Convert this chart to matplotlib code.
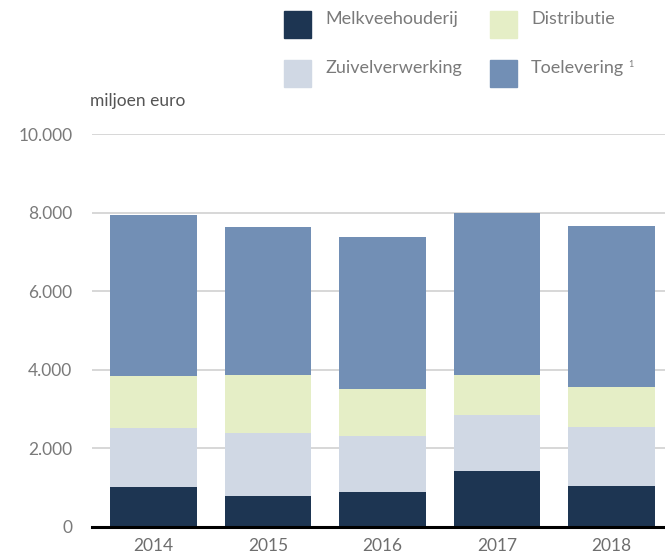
import matplotlib
matplotlib.use('Agg')
import matplotlib.pyplot as plt
from matplotlib.patches import Rectangle

plt.rcParams['font.family'] = ['Lato', 'DejaVu Sans']

years = ['2014', '2015', '2016', '2017', '2018']
melkveehouderij = [1030, 800, 900, 1430, 1040]
zuivelverwerking = [1490, 1590, 1420, 1420, 1510]
distributie = [1310, 1480, 1200, 1020, 1020]
toelevering = [4120, 3770, 3870, 4130, 4100]

series = [
    ('Melkveehouderij', melkveehouderij, '#1d3552'),
    ('Zuivelverwerking', zuivelverwerking, '#d0d8e4'),
    ('Distributie', distributie, '#e5eec6'),
    ('Toelevering', toelevering, '#728fb5'),
]
yticks = [0, 2000, 4000, 6000, 8000, 10000]
ytick_labels = ['0', '2.000', '4.000', '6.000', '8.000', '10.000']

fig = plt.figure(figsize=(6.65, 5.57), dpi=100)
ax = fig.add_axes([0.1383, 0.0539, 0.8617, 0.7055])

x = range(len(years))
bottom = [0] * len(years)
for name, vals, col in series:
    ax.bar(x, vals, bottom=bottom, width=0.757, color=col, zorder=3)
    bottom = [b + v for b, v in zip(bottom, vals)]

ax.set_xlim(-0.537, 4.467)
ax.set_ylim(0, 10000)
ax.set_yticks(yticks)
ax.set_yticklabels(ytick_labels)
ax.set_xticks(list(x))
ax.set_xticklabels(years)
ax.grid(axis='y', color='#d4d4d4', linewidth=1.3, zorder=0)
for s in ['top', 'right', 'left']:
    ax.spines[s].set_visible(False)
ax.spines['bottom'].set_linewidth(2.2)
ax.spines['bottom'].set_color('black')
ax.spines['bottom'].set_zorder(4)
ax.tick_params(axis='y', length=0, pad=14, labelsize=12.5, labelcolor='#7a7a7a')
ax.tick_params(axis='x', length=0, pad=8, labelsize=12.5, labelcolor='#6e6e6e')

fig.text(90 / 665, 1 - 101 / 557, 'miljoen euro', fontsize=12.5, color='#555555',
         va='center', ha='left')

# legend, two columns, drawn by hand
legend_pos = [(284, 11), (284, 60), (490, 11), (490, 60)]
W, H = 665, 557
for (px, py), (name, vals, col) in zip(legend_pos, series):
    fig.add_artist(Rectangle((px / W, 1 - (py + 27) / H), 27 / W, 27 / H,
                             transform=fig.transFigure, color=col))
    t = fig.text((px + 41) / W, 1 - (py + 8) / H, name, fontsize=13, color='#7a7a7a',
                 va='center', ha='left')
    if name == 'Toelevering':
        # footnote marker
        ax.annotate('1', xy=(1, 0.75), xycoords=t, xytext=(3, 0),
                    textcoords='offset points', fontsize=6.5, color='#7a7a7a',
                    va='center', ha='left', annotation_clip=False)

plt.savefig('out.png', dpi=100)
